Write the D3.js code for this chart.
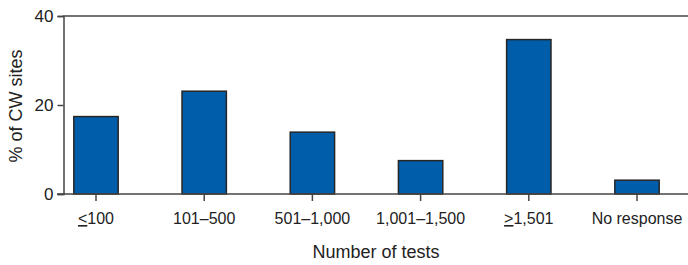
<!DOCTYPE html>
<html>
<head>
<meta charset="utf-8">
<script src="https://cdn.jsdelivr.net/npm/d3@7"></script>
<style>
  body { margin: 0; background: #fff; }
  text { font-family: "Liberation Sans", Arial, sans-serif; fill: #222; }
</style>
</head>
<body>
<svg id="chart"></svg>
<script>
// categories and values
const categories = ["≤100", "101–500", "501–1,000", "1,001–1,500", "≥1,501", "No response"];
const values = [17.4, 23.1, 13.9, 7.5, 34.7, 3.1];
const yTicks = [0, 20, 40];

const width = 688, height = 265;
const svg = d3.select("#chart").attr("width", width).attr("height", height);

const x = d3.scaleBand()
    .domain(categories)
    .range([63, 670])
    .paddingInner(0.59)
    .paddingOuter(0.1);

const y = d3.scaleLinear()
    .domain([0, 40])
    .range([194, 16]);

// bars
svg.selectAll(".bar")
    .data(values)
    .enter().append("rect")
    .attr("class", "bar")
    .attr("x", (d, i) => x(categories[i]))
    .attr("y", d => y(d))
    .attr("width", x.bandwidth())
    .attr("height", d => y(0) - y(d))
    .attr("fill", "#005DAA")
    .attr("stroke", "#262626")
    .attr("stroke-width", 1.5);

// y axis
let yAxis = svg.append("g")
    .attr("transform", "translate(63.5,0)")
    .call(d3.axisLeft(y).tickValues(yTicks).tickSize(6).tickPadding(4));
yAxis.select(".domain").attr("stroke", "#444").attr("stroke-width", 1.5);
yAxis.selectAll(".tick line").attr("stroke", "#444").attr("stroke-width", 1.5);
yAxis.selectAll(".tick text")
    .style("font-size", "17px")
    .attr("fill", "#222");

// top line
svg.append("line")
    .attr("x1", 63).attr("x2", width)
    .attr("y1", y(40)).attr("y2", y(40))
    .attr("stroke", "#444").attr("stroke-width", 1.5);

// baseline
svg.append("line")
    .attr("x1", 57).attr("x2", width)
    .attr("y1", y(0)).attr("y2", y(0))
    .attr("stroke", "#444").attr("stroke-width", 1.5);

// x ticks
svg.selectAll(".xtick")
    .data(categories)
    .enter().append("line")
    .attr("x1", d => x(d) + x.bandwidth() / 2)
    .attr("x2", d => x(d) + x.bandwidth() / 2)
    .attr("y1", y(0))
    .attr("y2", y(0) + 7)
    .attr("stroke", "#444")
    .attr("stroke-width", 1.5);

// x labels (≤ / ≥ drawn as underlined < / >, like the figure)
let labels = svg.selectAll(".xlabel")
    .data(categories)
    .enter().append("text")
    .attr("class", "xlabel")
    .attr("x", d => x(d) + x.bandwidth() / 2)
    .attr("y", 224)
    .attr("text-anchor", "middle")
    .style("font-size", "16px");

labels.each(function(d) {
    let t = d3.select(this);
    if (d[0] === "≤" || d[0] === "≥") {
        t.append("tspan")
            .style("text-decoration", "underline")
            .text(d[0] === "≤" ? "<" : ">");
        t.append("tspan").text(d.slice(1));
    } else {
        t.text(d);
    }
});

// axis titles
svg.append("text")
    .attr("x", 376)
    .attr("y", 258)
    .attr("text-anchor", "middle")
    .style("font-size", "18px")
    .text("Number of tests");

svg.append("text")
    .attr("transform", "translate(22,106) rotate(-90)")
    .attr("text-anchor", "middle")
    .style("font-size", "18px")
    .text("% of CW sites");
</script>
</body>
</html>
